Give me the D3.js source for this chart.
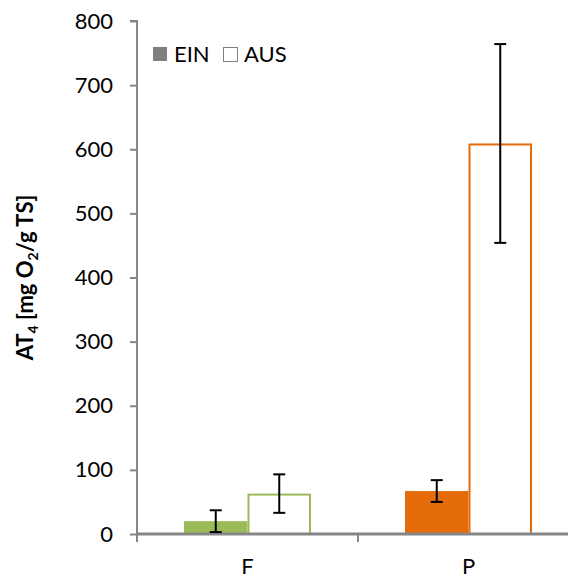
<!DOCTYPE html>
<html>
<head>
<meta charset="utf-8">
<script src="https://cdn.jsdelivr.net/npm/d3@7"></script>
<style>
  body { margin: 0; background: #fff; }
  svg { display: block; font-family: Lato, "Open Sans", sans-serif; }
</style>
</head>
<body>
<div id="chart"></div>
<script>
var categories = ["F", "P"],
	series = ["EIN", "AUS"],
	einValues = [20, 67],
	ausValues = [63, 609],
	einErr = [17, 17],
	ausErr = [30, 155],
	barColors = ["#9BBB59", "#E46C0A"],
	yTicks = [0, 100, 200, 300, 400, 500, 600, 700, 800];

var W = 568, H = 579,
	margin = {top: 21, left: 137, bottom: 45},
	plotW = 442,
	plotH = H - margin.top - margin.bottom;

var svg = d3.select("#chart").append("svg")
	.attr("width", W)
	.attr("height", H);

var x = d3.scaleBand()
	.domain(categories)
	.range([margin.left, margin.left + plotW]);

var xs = d3.scaleBand()
	.domain(series)
	.range([0, x.bandwidth()])
	.paddingInner(0)
	.paddingOuter(0.74);

var y = d3.scaleLinear()
	.domain([0, 800])
	.range([margin.top + plotH, margin.top]);

var axisColor = "#868686";

// y axis
var yAxis = svg.append("g")
	.attr("transform", "translate(" + margin.left + ",0)")
	.call(d3.axisLeft(y).tickValues(yTicks).tickSize(7).tickPadding(17));
yAxis.select(".domain").attr("stroke", axisColor).attr("stroke-width", 2)
	.attr("d", "M-7," + y(800) + "H0V" + y(0));
yAxis.selectAll(".tick line").attr("stroke", axisColor).attr("stroke-width", 2);
yAxis.selectAll(".tick text").attr("fill", "#000")
	.style("font-size", "22px").style("font-family", "Lato, 'Open Sans', sans-serif");

var data = [];
categories.forEach(function(c, i){
	data.push({cat: c, s: "EIN", v: einValues[i], e: einErr[i], col: barColors[i]});
	data.push({cat: c, s: "AUS", v: ausValues[i], e: ausErr[i], col: barColors[i]});
});

// bars
svg.append("g").selectAll("rect")
	.data(data).enter()
	.append("rect")
	.attr("x", function(d){ return x(d.cat) + xs(d.s) + (d.s == "AUS" ? 1 : 0); })
	.attr("y", function(d){ return y(d.v) + (d.s == "AUS" ? 1 : 0); })
	.attr("width", function(d){ return xs.bandwidth() - (d.s == "AUS" ? 2 : 0); })
	.attr("height", function(d){ return y(0) - y(d.v) - (d.s == "AUS" ? 1 : 0); })
	.attr("fill", function(d){ return d.s == "EIN" ? d.col : "#fff"; })
	.attr("stroke", function(d){ return d.s == "AUS" ? d.col : "none"; })
	.attr("stroke-width", 2);

// x axis
var xAxis = svg.append("g")
	.attr("transform", "translate(0," + y(0) + ")");
xAxis.append("line")
	.attr("x1", margin.left).attr("x2", margin.left + plotW)
	.attr("stroke", axisColor).attr("stroke-width", 3);
xAxis.selectAll(".xt")
	.data(categories.concat([null])).enter()
	.append("line")
	.attr("x1", function(d, i){ return margin.left + i * x.step(); })
	.attr("x2", function(d, i){ return margin.left + i * x.step(); })
	.attr("y1", 0).attr("y2", 8)
	.attr("stroke", axisColor).attr("stroke-width", 2);
xAxis.selectAll("text")
	.data(categories).enter()
	.append("text")
	.attr("x", function(d){ return x(d) + x.bandwidth() / 2; })
	.attr("y", 40)
	.attr("text-anchor", "middle")
	.style("font-size", "22px")
	.text(function(d){ return d; });

// error bars
var err = svg.append("g").attr("stroke", "#000").attr("stroke-width", 2);
data.forEach(function(d){
	var cx = x(d.cat) + xs(d.s) + xs.bandwidth() / 2;
	err.append("line").attr("x1", cx).attr("x2", cx)
		.attr("y1", y(d.v + d.e)).attr("y2", y(d.v - d.e));
	[d.v + d.e, d.v - d.e].forEach(function(v){
		err.append("line").attr("x1", cx - 6).attr("x2", cx + 6)
			.attr("y1", y(v)).attr("y2", y(v));
	});
});

// legend
var legend = svg.append("g").attr("transform", "translate(153,46)");
legend.append("rect").attr("x", 0).attr("y", 1).attr("width", 14).attr("height", 14)
	.attr("fill", "#808080");
legend.append("text").attr("x", 21).attr("y", 15.5).style("font-size", "22px").text("EIN");
legend.append("rect").attr("x", 70.5).attr("y", 1.5).attr("width", 14).attr("height", 14)
	.attr("fill", "#fff").attr("stroke", "#808080").attr("stroke-width", 1);
legend.append("text").attr("x", 91).attr("y", 15.5).style("font-size", "22px").text("AUS");

// y label
var yl = svg.append("text")
	.attr("transform", "translate(33," + (margin.top + plotH / 2) + ") rotate(-90)")
	.attr("text-anchor", "middle")
	.style("font-size", "22px")
	.style("font-weight", "bold");
yl.append("tspan").text("AT");
yl.append("tspan").attr("dy", 5).style("font-size", "14px").text("4");
yl.append("tspan").attr("dy", -5).text(" [mg O");
yl.append("tspan").attr("dy", 5).style("font-size", "14px").text("2");
yl.append("tspan").attr("dy", -5).text("/g TS]");
</script>
</body>
</html>
